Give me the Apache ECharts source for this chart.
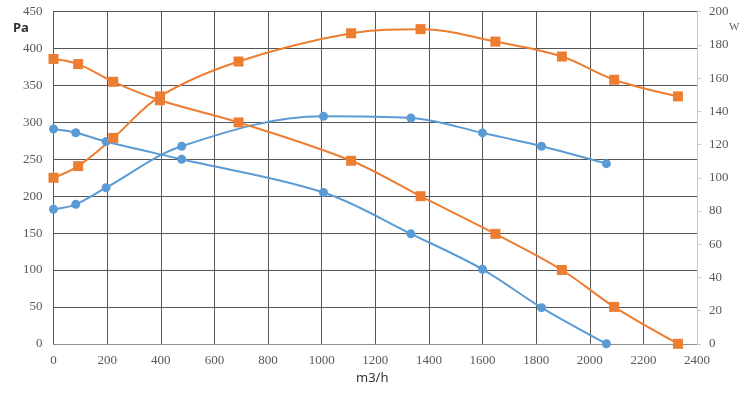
<!DOCTYPE html>
<html>
<head>
<meta charset="utf-8">
<script src="https://cdn.jsdelivr.net/npm/echarts@6/dist/echarts.min.js"></script>
<style>
html,body{margin:0;padding:0;background:#fff;}
#chart{width:745px;height:394px;}
</style>
</head>
<body>
<div id="chart"></div>
<script>
// Flow (m3/h)
const flowOrange = [0, 92, 223, 397, 690, 1110, 1369, 1648, 1896, 2091, 2329];
const pressureOrange = [386, 379, 355, 330, 300, 248, 200, 149, 100, 50, 0];
const powerOrange = [100, 107, 124, 149, 170, 187, 189.5, 182, 173, 159, 149];

const flowBlue = [0, 83, 196, 478, 1007, 1333, 1600, 1820, 2062];
const pressureBlue = [291, 286, 274, 250, 205, 149, 101, 49, 0];
const powerBlue = [81, 84, 94, 119, 137, 136, 127, 119, 108.5];

const xTicks = {min: 0, max: 2400, interval: 200};
const leftTicks = {min: 0, max: 450, interval: 50};
const rightTicks = {min: 0, max: 200, interval: 20};

const ORANGE = '#ED7D31';
const BLUE = '#5B9BD5';
const zip = (xs, ys) => xs.map((x, i) => [x, ys[i]]);
const tickFont = {color: '#595959', fontSize: 13, fontFamily: 'Liberation Serif, DejaVu Serif, serif', formatter: v => String(v)};

function line(name, xs, ys, color, symbol, yAxisIndex) {
  return {
    name, type: 'line', yAxisIndex, smooth: 0.35,
    data: zip(xs, ys),
    symbol, symbolSize: symbol === 'rect' ? 10 : 9,
    lineStyle: {color, width: 2},
    itemStyle: {color},
    z: 3
  };
}

const chart = echarts.init(document.getElementById('chart'));
chart.setOption({
  animation: false,
  backgroundColor: '#fff',
  grid: {left: 53.5, right: 48, top: 11.7, bottom: 50.2, containLabel: false},
  xAxis: {
    type: 'value', ...xTicks,
    axisLine: {show: true, lineStyle: {color: '#8c8c8c', width: 1}},
    axisTick: {show: false},
    axisLabel: {...tickFont, margin: 10},
    splitLine: {show: true, lineStyle: {color: '#555555', width: 1}}
  },
  yAxis: [
    {
      type: 'value', ...leftTicks,
      axisLine: {show: true, lineStyle: {color: '#555555'}},
      axisTick: {show: false},
      axisLabel: {...tickFont, margin: 11},
      splitLine: {show: true, lineStyle: {color: '#555555', width: 1}}
    },
    {
      type: 'value', ...rightTicks, position: 'right',
      axisLine: {show: true, lineStyle: {color: '#c8c8c8'}},
      axisTick: {show: true, length: 4, lineStyle: {color: '#c8c8c8'}},
      axisLabel: {...tickFont, margin: 12},
      splitLine: {show: false}
    }
  ],
  graphic: [
    {type: 'text', left: 13, top: 22, style: {text: 'Pa', fontSize: 13, fontWeight: 'bold', fill: '#333', fontFamily: 'Noto Sans, sans-serif'}},
    {type: 'text', left: 729, top: 22, style: {text: 'W', fontSize: 11, fill: '#595959', fontFamily: 'Liberation Serif, serif'}},
    {type: 'text', left: 356, top: 372, style: {text: 'm3/h', fontSize: 13, fill: '#333', fontFamily: 'Noto Sans, sans-serif'}}
  ],
  series: [
    line('Pressure A', flowBlue, pressureBlue, BLUE, 'circle', 0),
    line('Power A', flowBlue, powerBlue, BLUE, 'circle', 1),
    line('Pressure B', flowOrange, pressureOrange, ORANGE, 'rect', 0),
    line('Power B', flowOrange, powerOrange, ORANGE, 'rect', 1)
  ]
});
</script>
</body>
</html>
